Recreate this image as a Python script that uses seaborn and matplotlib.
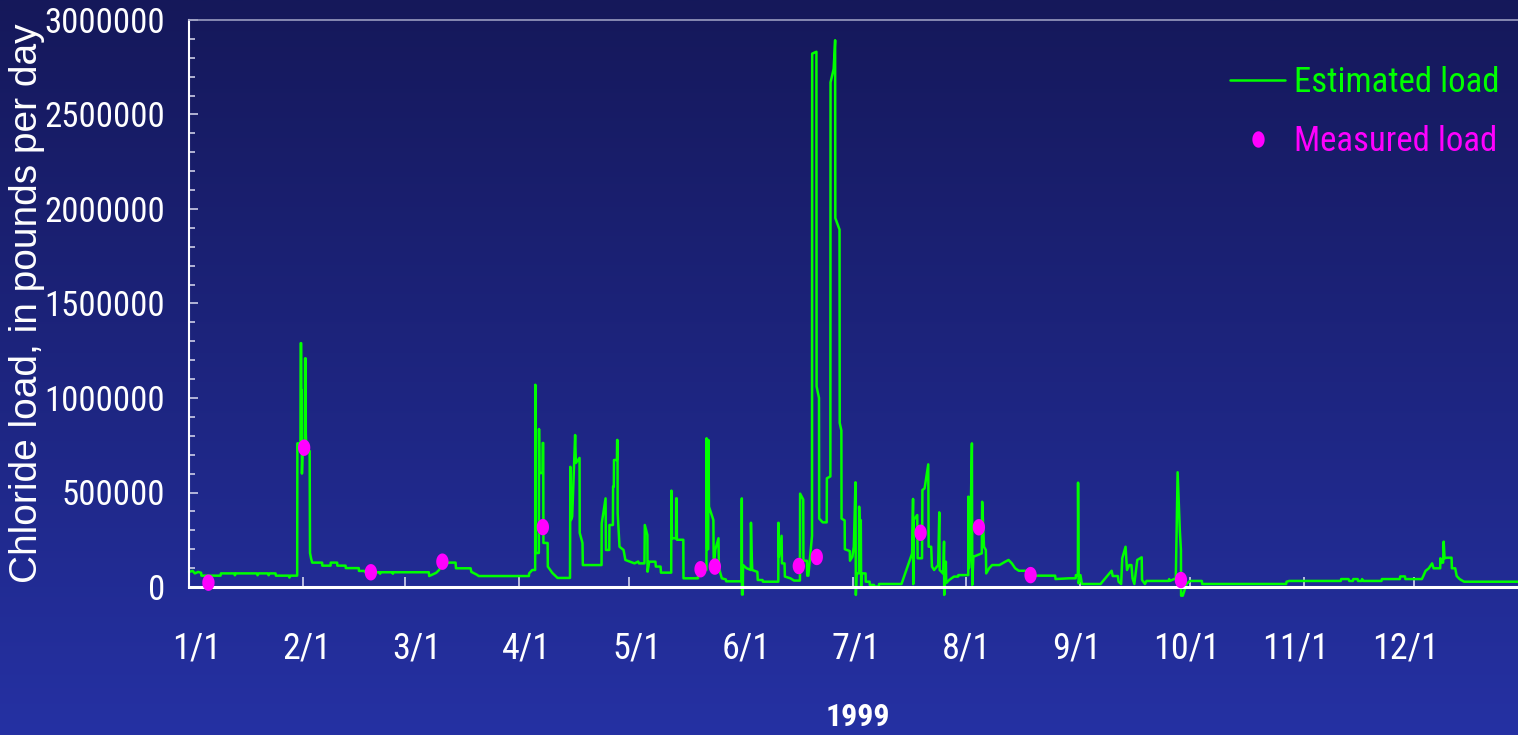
import numpy as np
import pandas as pd
import matplotlib
matplotlib.use("Agg")
import matplotlib.pyplot as plt
import seaborn as sns
from matplotlib.path import Path
from matplotlib.lines import Line2D
from matplotlib import font_manager as fm
from matplotlib.font_manager import FontProperties
import matplotlib.colors as mcolors

# ---------------- data ----------------
# Estimated load (day of year 1999, 0 = Jan 1) and load in thousand lb/day
est_day = [0, 1.0, 1.6, 2.5, 3.3, 3.4, 8.6, 8.7, 12.4, 12.5, 12.8, 18.5, 18.7, 19.0, 21.5, 21.7, 22.0,
           23.6, 23.7, 27.2, 27.4, 27.6, 29.5,
           29.55, 30.4, 30.45, 30.6, 30.65, 30.75, 30.8, 31.0, 31.6, 31.65, 31.8, 31.85, 32.0, 32.9,
           33.0, 33.3, 33.6, 36.3, 36.35, 38.6, 38.65, 40.4, 40.45, 42.7, 42.75, 46.3, 46.35, 48.0,
           48.1, 52.0, 52.1, 52.3, 55.5, 55.6, 55.8, 60, 65.4, 65.5, 67.4, 68.2, 68.7, 70.9, 72.7,
           72.8, 76.8, 77.0, 78.5, 79.0, 92.7, 92.75, 93.6, 94.4,
           94.45, 94.55, 95.4, 95.45, 95.55, 96.4, 96.45, 96.6, 96.65, 97.8, 97.85, 99.1, 100.5,
           103.9, 104.0, 104.15, 104.5, 104.9, 105.3, 105.5, 106.5, 106.55, 107.3, 107.4, 112.5,
           112.55, 113.6, 113.7, 114.6, 114.65, 115.6, 115.65, 115.85, 115.9, 116.7, 116.75, 116.85,
           116.9, 117.4, 118.5, 119.0, 121.5, 122.5, 122.7, 124.2,
           124.3, 125.0, 125.05, 125.5, 127.2, 127.3, 128.6, 128.7, 131.5,
           131.55, 131.7, 132.8, 132.85, 133.0, 133.05, 134.8, 134.85, 138.8, 138.9, 141.1,
           141.15, 141.3, 141.6, 141.65, 141.8, 143.0, 143.1, 143.5, 144.4, 144.5, 145.3, 146.4,
           146.5, 150.7,
           150.75, 150.8, 151.0, 151.1, 152.0, 153.2, 153.25, 153.4, 153.6, 155.0, 155.1, 156.4,
           156.5, 160.7, 160.75, 160.9, 161.6, 161.7, 162.4, 162.5, 164.0, 165.0, 166.6,
           166.65, 167.5, 167.55, 168.5, 168.6, 168.9, 169.9, 169.95, 171.1, 171.15, 171.8, 171.85,
           172.8, 173.9, 173.95, 174.9, 174.95, 175.8, 176.2, 176.25, 177.4, 177.45, 177.9, 177.95,
           178.8, 178.85, 180.2, 180.25, 180.9, 181.3, 181.75, 181.85, 182.1, 182.7, 182.75, 183.0,
           183.2, 183.3, 183.4, 184.5, 184.55, 185.6, 185.65, 186.8, 186.85, 188.1, 188.2, 194.3,
           197.2, 197.45, 197.5, 197.6, 198.6, 198.7, 199.9, 200.0, 200.6, 201.6, 201.7, 202.4,
           202.6, 203.2, 204.3, 204.6, 204.7, 205.7, 205.9, 205.95, 206.4, 206.5, 207.3, 208.6,
           209.7, 209.8, 212.5,
           212.55, 212.7, 213.0, 213.5, 213.6, 213.9, 216.2, 216.3, 216.8, 217.3, 217.4, 218.2,
           219.0, 221.0, 222.6, 223.5, 224.4, 225.3, 226.3, 228.6, 228.7, 236.2, 236.3, 240.0,
           241.8, 241.85, 242.4, 242.45, 242.6, 243.1, 243.5, 248.6, 249.1, 250.4, 251.6, 251.9,
           253.3, 253.5, 254.2, 254.5, 255.4, 255.8, 256.4, 257.0, 257.3, 257.8, 258.6, 259.8,
           259.9, 260.7, 261.1, 267.1, 267.3, 267.5, 269.1, 269.6, 270.2, 270.5, 270.55, 271.0,
           271.5, 272.0, 273.0, 276.2, 276.3, 299.2, 299.3, 300, 314.1, 314.2, 316.2, 316.4,
           317.4, 317.5, 318.7, 318.8, 319.8, 319.9, 320.2, 325.2, 325.3, 330.2, 330.3, 331.6,
           331.7, 336.2, 336.6, 337.2, 338.1, 339.0, 339.4, 341.2, 341.25, 341.6, 342.0, 342.15,
           342.4, 343.0, 344.3, 344.4, 345.3, 345.7, 346.5, 347.7, 362.4]
est_kload = [80, 85, 72, 80, 75, 60, 60, 72, 72, 62, 72, 72, 62, 72, 72, 62, 72,
             72, 60, 60, 50, 60, 60,
             760, 760, 1290, 1290, 1040, 1040, 600, 740, 760, 1210, 1210, 815, 720, 720,
             180, 150, 129, 129, 113, 113, 129, 129, 113, 113, 100, 100, 85, 85,
             78, 78, 70, 78, 78, 70, 78, 78, 78, 58, 75, 90, 110, 129, 129,
             99, 99, 80, 65, 58, 58, 72, 90, 90,
             1070, 180, 180, 836, 603, 603, 762, 762, 233, 233, 108, 74, 48,
             48, 636, 354, 372, 583, 804, 656, 683, 286, 233, 116, 116,
             337, 469, 196, 196, 328, 328, 531, 531, 672, 672, 778, 778,
             390, 213, 196, 143, 125, 135, 125, 125,
             328, 275, 81, 134, 134, 108, 108, 76, 76,
             510, 258, 258, 469, 469, 250, 250, 46, 46, 90, 90,
             787, 200, 200, 778, 425, 354, 90, 196, 258, 100, 46, 40,
             30, 30,
             469, -40, -40, 116, 100, 90, 340, 196, 90, 80, 37, 37,
             28, 28, 340, 160, 271, 125, 125, 55, 46, 34, 34,
             494, 463, 139, 139, 60, 60, 271, 2822, 2832, 1061, 1000, 362,
             342, 342, 575, 585, 2670, 2741, 2893, 1952, 1891, 868, 828, 362,
             352, 200, 190, 139, 160, 213, 554, -42, 72, 72, 425, 200,
             354, 0, 72, 72, 28, 28, 11, 11, 2, 2, 16, 16,
             178, 466, 15, 354, 381, 152, 152, 513, 522, 649, 213, 213,
             108, 90, 116, 395, 90, 70, 240, -42, 134, 21, 37, 55,
             55, 63, 63,
             478, 100, 178, 760, 11, 160, 178, 451, 213, 196, 72, 99,
             116, 116, 134, 143, 125, 99, 86, 86, 60, 60, 42, 46,
             46, 63, 63, 552, 19, 63, 16, 16, 28, 58, 86, 58,
             58, 28, 16, 152, 213, 90, 116, 116, 46, 16, 143, 157,
             37, 16, 32, 32, 42, 32, 46, 607, 300, 196, -46, -46,
             -16, 16, 32, 32, 16, 16, 28, 32, 32, 42, 42, 32,
             32, 42, 42, 32, 32, 42, 32, 32, 42, 42, 56, 56,
             42, 42, 58, 85, 99, 125, 99, 99, 152, 129, 129, 240,
             152, 155, 155, 99, 99, 58, 42, 28, 28]

# Measured load samples
meas_day = [5.3, 31.4, 49.6, 69.1, 96.5, 139.5, 143.4, 166.3, 171.2, 199.5, 215.4, 229.5, 270.5]
meas_kload = [23, 737, 78, 134, 317, 94, 108, 111, 159, 287, 316, 63, 37]

month_start = [0, 31, 59, 90, 120, 151, 181, 212, 243, 273, 304, 334]
month_labels = ["1/1", "2/1", "3/1", "4/1", "5/1", "6/1", "7/1", "8/1", "9/1", "10/1", "11/1", "12/1"]
ytick_vals = [0, 500000, 1000000, 1500000, 2000000, 2500000, 3000000]

GREEN = "#00ff00"
MAGENTA = "#ff00ff"


def _w(e):
    w = e.weight
    if isinstance(w, str):
        w = fm.weight_dict.get(w, 400)
    return w


def find_font(bold=False):
    ents = [e for e in fm.fontManager.ttflist if e.style == "normal"]
    want = (lambda e: _w(e) >= 600) if bold else (lambda e: _w(e) < 600)
    for name in ["Liberation Sans Narrow", "Arial Narrow", "Roboto Condensed",
                 "Open Sans Condensed", "Noto Sans Condensed", "DejaVu Sans Condensed"]:
        for e in ents:
            if e.name == name and want(e):
                return e.fname
    for e in ents:
        if e.name in ("Liberation Sans", "Noto Sans", "Open Sans", "Roboto", "DejaVu Sans") \
                and e.stretch in ("condensed", "semi-condensed") and want(e):
            return e.fname
    return None


narrow_path = find_font(False)
narrowb_path = find_font(True)

sns.set_style("ticks")
plt.rcParams["font.family"] = ["Liberation Sans", "DejaVu Sans"]


def fprop(size, bold=False):
    if bold and narrowb_path:
        return FontProperties(fname=narrowb_path, size=size)
    if (not bold) and narrow_path:
        return FontProperties(fname=narrow_path, size=size)
    return FontProperties(family="Liberation Sans", size=size * 0.85,
                          weight="bold" if bold else "normal")


W, H = 1518, 735
fig = plt.figure(figsize=(W / 100, H / 100), dpi=100)

# gradient background
bg = fig.add_axes([0, 0, 1, 1])
top = np.array(mcolors.to_rgb("#15185a"))
bot = np.array(mcolors.to_rgb("#2531a3"))
tt = np.linspace(0, 1, 256)[:, None]
grad = (top[None, :] * (1 - tt) + bot[None, :] * tt)[:, None, :]
bg.imshow(grad, aspect="auto", extent=[0, 1, 0, 1], origin="upper")
bg.set_axis_off()
bg.set_zorder(-10)

L, R = 189, 1518
Ty, By = 20, 587
ax = fig.add_axes([L / W, 1 - By / H, (R - L) / W, (By - Ty) / H])
ax.set_facecolor("none")

est = pd.DataFrame({"day": est_day, "load": np.array(est_kload) * 1000.0})
meas = pd.DataFrame({"day": meas_day, "load": np.array(meas_kload) * 1000.0})

sns.lineplot(data=est, x="day", y="load", ax=ax, estimator=None, sort=False,
             color=GREEN, linewidth=1.8, legend=False, clip_on=False, zorder=2)

th = np.linspace(0, 2 * np.pi, 64)
ell = Path(np.column_stack([0.75 * np.cos(th), np.sin(th)]), closed=True)
sns.scatterplot(data=meas, x="day", y="load", ax=ax, marker=ell, s=140,
                color=MAGENTA, edgecolor="none", linewidth=0, legend=False,
                zorder=3, clip_on=False)

ax.set_xlim(0, (R - L) / 3.667)
ax.set_ylim(0, 3000000)

ax.spines["right"].set_visible(False)
ax.spines["left"].set_color("white")
ax.spines["left"].set_linewidth(1.5)
ax.spines["bottom"].set_color("white")
ax.spines["bottom"].set_linewidth(2.2)
ax.spines["top"].set_visible(True)
ax.spines["top"].set_color("#9a9cc0")
ax.spines["top"].set_linewidth(1.2)

# y ticks
ax.set_yticks(ytick_vals, labels=[str(v) for v in ytick_vals])
ax.set_yticks(np.arange(0, 3000001, 100000), minor=True)
ax.tick_params(axis="y", which="major", direction="in", length=6.5, width=1.1,
               color="#dcdcf0", labelcolor="white", pad=17)
ax.tick_params(axis="y", which="minor", direction="in", length=4.3, width=1.1,
               color="#dcdcf0")

# x ticks: month starts (marks) and evenly spaced labels
lab_pos = np.linspace((197 - L) / 3.667, (1406 - L) / 3.667, 12)
ax.set_xticks(month_start, labels=[""] * 12)
ax.set_xticks(lab_pos, labels=month_labels, minor=True)
ax.tick_params(axis="x", which="major", direction="in", length=7, width=1.1,
               color="#e6e6f5")
ax.tick_params(axis="x", which="minor", length=0, labelcolor="white", pad=31)

for lab in ax.get_yticklabels():
    lab.set_fontproperties(fprop(25))
for lab in ax.get_xticklabels(minor=True):
    lab.set_fontproperties(fprop(26))

ax.set_ylabel("Chloride load, in pounds per day", color="white", fontsize=28)
ax.yaxis.label.set_va("center")
ax.yaxis.set_label_coords((27 - L) / (R - L), 0.5)
ax.set_xlabel("1999", color="white", fontproperties=fprop(23, bold=True))
ax.xaxis.label.set_va("center")
ax.xaxis.set_label_coords((858 - L) / (R - L), (By - 717) / (By - Ty))

# legend
h1 = Line2D([], [], color=GREEN, lw=1.8)
h2 = Line2D([], [], ls="none", marker=ell, ms=11.8, color=MAGENTA, mec="none")
fs_px = 25 * 100 / 72
leg = ax.legend([h1, h2], ["Estimated load", "Measured load"], loc="upper left",
                bbox_to_anchor=(1230 / W, 1 - 66 / H), bbox_transform=fig.transFigure,
                frameon=False, prop=fprop(25), handlelength=55 / fs_px,
                handletextpad=9 / fs_px, labelspacing=0.74, borderpad=0, borderaxespad=0)
for t, c in zip(leg.get_texts(), [GREEN, MAGENTA]):
    t.set_color(c)

fig.savefig("out.png", dpi=100)
